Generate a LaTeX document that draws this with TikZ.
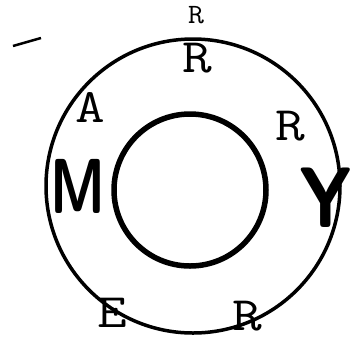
\documentclass[tikz,border=0pt]{standalone}
\usepackage{fontspec}
\tikzset{
  lbl/.style={font=\ttfamily\fontsize{48}{48}\selectfont, inner sep=0pt, text=black, xscale=1.2},
  bigb/.style={font=\sffamily\bfseries\fontsize{78}{78}\selectfont, inner sep=0pt, text=black},
  ring/.style={draw=black, line width=3.5pt},
  core/.style={draw=black, line width=5.5pt}
}
\begin{document}
\begin{tikzpicture}[x=1pt,y=-1pt]
\useasboundingbox (0,0) rectangle (353,341);
\fill[white] (0,0) rectangle (353,341);
% circles
\draw[ring] (193,186) circle[radius=147];
\draw[core] (190,190) circle[radius=76];
\draw[black, line width=2.5pt] (13,46) -- (41,38);
% labels
\node[font=\ttfamily\fontsize{28}{28}\selectfont, inner sep=0pt, xscale=1.1] (top) at (196,15) {R};
\node[lbl] (r1) at (197,58) {R};
\node[lbl] (a) at (90,107) {A};
\node[lbl] (r2) at (290,126) {R};
\node[bigb, xscale=0.72] (m) at (78,186) {M};
\node[bigb, xscale=0.92, yscale=1.1] (y) at (326,198) {Y};
\node[lbl] (e) at (112,313) {E};
\node[lbl] (r3) at (247,316) {R};
\end{tikzpicture}
\end{document}
